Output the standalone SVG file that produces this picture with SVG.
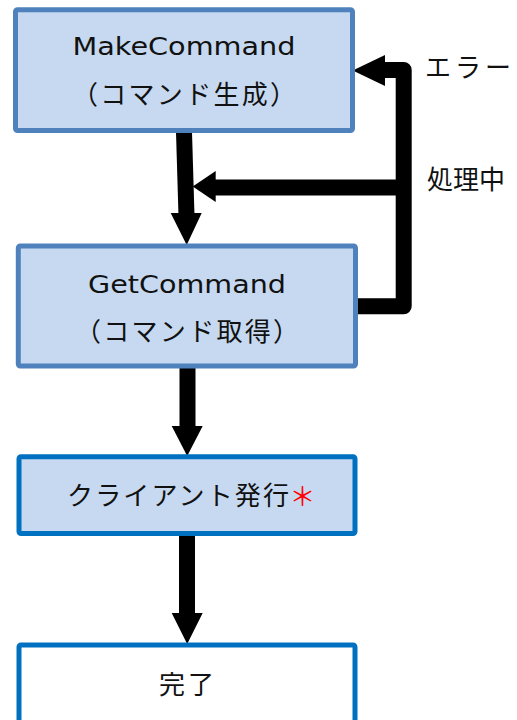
<svg xmlns="http://www.w3.org/2000/svg" width="517" height="720" viewBox="0 0 517 720">
<style>
.box1{fill:#c6d9f0;stroke:#4f81bd;stroke-width:5}
.box2{fill:#c6d9f0;stroke:#0070c0;stroke-width:5}
.box3{fill:#ffffff;stroke:#0070c0;stroke-width:5}
.t{font-family:"Noto Sans CJK JP","Noto Sans",sans-serif;font-size:26px;fill:#111}
.lat{font-family:"DejaVu Sans","Noto Sans CJK JP",sans-serif;font-size:24px;fill:#111}
.c{text-anchor:middle}
.ln{stroke:#000;stroke-width:16;fill:none}
.hd{fill:#000}
</style>
<rect x="0" y="0" width="517" height="720" fill="#ffffff"/>
<g id="connectors">
<line class="ln" x1="184" y1="132" x2="186.5" y2="216"/>
<polygon class="hd" points="170.7,213 201.7,213 186.7,245"/>
<path class="ln" d="M356 306.3 H403.7 V70 H383" stroke-linejoin="round"/>
<polygon class="hd" points="385,55 385,86 352.7,70.5"/>
<line class="ln" x1="403.7" y1="187.5" x2="213" y2="187.5"/>
<polygon class="hd" points="215.7,171 215.7,202 192.7,186.5"/>
<line class="ln" x1="187.5" y1="367" x2="187.5" y2="428"/>
<polygon class="hd" points="171.7,426 202.7,426 187.2,456"/>
<line class="ln" x1="187" y1="535" x2="187" y2="615"/>
<polygon class="hd" points="171.7,613 202.7,613 187.2,644"/>
</g>
<g id="make">
<rect class="box1" x="15.5" y="9.8" width="337" height="120.7" rx="2"/>
<text class="lat c" x="184" y="55" textLength="223" lengthAdjust="spacingAndGlyphs">MakeCommand</text>
<text class="t c" x="184" y="104" textLength="224">（コマンド生成）</text>
</g>
<g id="get">
<rect class="box1" x="18.3" y="246" width="337.2" height="120" rx="2"/>
<text class="lat c" x="187" y="293" textLength="198" lengthAdjust="spacingAndGlyphs">GetCommand</text>
<text class="t c" x="187" y="341" textLength="224">（コマンド取得）</text>
</g>
<g id="client">
<rect class="box2" x="19" y="456.7" width="336" height="76.8" rx="2"/>
<text class="t" x="67" y="505" textLength="222">クライアント発行</text>
<text class="t" x="289.5" y="506" font-size="22" style="fill:#ff0000">＊</text>
</g>
<g id="done">
<rect class="box3" x="19" y="645" width="336" height="100" rx="2"/>
<text class="t c" x="186.5" y="694" textLength="55">完了</text>
</g>
<g id="labels">
<text class="t" x="425" y="77" textLength="86">エラー</text>
<text class="t" x="427" y="189">処理中</text>
</g>
</svg>
